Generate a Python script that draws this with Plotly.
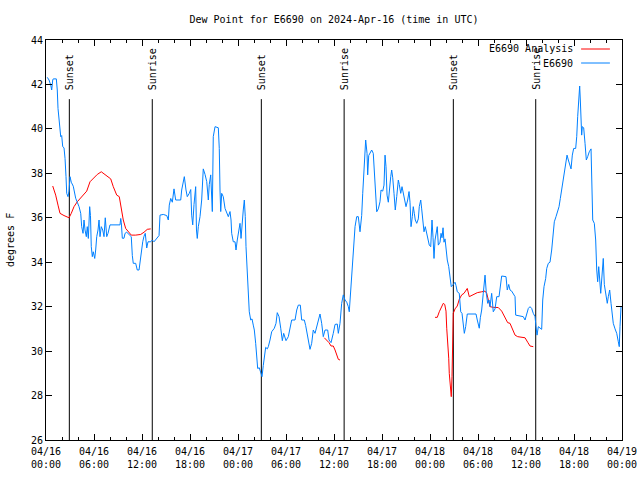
import pandas as pd
import plotly.graph_objects as go

# ---------------- data ----------------
START = "2024-04-16 00:00"

# E6690 observed dew point (hours since 04/16 00:00 UTC, degrees F)
obs_hours = [0.16, 0.38, 0.59, 0.71, 0.84, 0.91, 1.29, 1.41, 1.5, 1.63, 1.71, 1.84, 1.96, 2.09, 2.25, 2.38, 2.5, 2.59, 2.75, 2.88,
             3.0, 3.16, 3.41, 3.59, 3.71, 3.91, 4.13, 4.34, 4.46, 4.63, 4.75, 4.88, 5.04, 5.16, 5.29, 5.46, 5.56, 5.66, 5.79, 5.91,
             6.09, 6.21, 6.34, 6.5, 6.63, 6.75, 6.91, 7.09, 7.25, 7.41, 7.59, 7.75, 7.88, 8.0, 9.25, 9.34, 9.41, 9.54, 9.75, 9.88,
             10.09, 10.25, 10.5, 10.66, 10.79, 10.91, 11.21, 11.41, 11.63, 11.75, 11.91, 12.09, 12.25, 12.41, 12.59, 12.75, 13.09, 13.29, 13.5, 13.88,
             14.13, 14.25, 14.66, 15.09, 15.29, 15.41, 15.59, 15.79, 16.0, 16.21, 16.84, 16.96, 17.16, 17.29, 17.5, 17.66, 17.91, 18.09, 18.21, 18.34,
             18.5, 18.71, 18.81, 18.91, 19.04, 19.25, 19.46, 19.59, 19.66, 19.88, 20.09, 20.29, 20.41, 20.59, 20.71, 20.79, 20.91, 21.13, 21.54, 21.66,
             21.75, 21.84, 21.96, 22.16, 22.38, 22.59, 22.79, 23.0, 23.13, 23.21, 23.41, 23.63, 23.75, 23.91, 24.04, 24.25, 24.38, 24.5, 24.66, 24.79,
             24.91, 25.0, 25.16, 25.29, 25.41, 25.59, 25.75, 25.91, 26.04, 26.21, 26.34, 26.46, 26.66, 26.84, 27.0, 27.16, 27.34, 27.46, 27.66, 27.79,
             28.0, 28.21, 28.54, 28.75, 28.91, 29.13, 29.34, 29.54, 29.71, 30.0, 30.29, 30.5, 30.71, 31.13, 31.34, 31.54, 31.79, 31.96, 32.29, 32.46,
             32.63, 32.79, 33.0, 33.21, 33.41, 33.63, 33.84, 34.04, 34.25, 34.46, 34.66, 34.88, 35.21, 35.38, 35.63, 35.91, 36.13, 36.41, 36.54, 36.75,
             36.96, 37.16, 37.38, 37.59, 37.79, 37.91, 38.09, 38.21, 38.34, 38.46, 38.63, 38.84, 39.04, 39.25, 39.46, 39.59, 39.75, 39.88, 39.96, 40.13,
             40.21, 40.34, 40.5, 40.71, 40.91, 41.09, 41.25, 41.34, 41.54, 41.75, 41.88, 42.09, 42.25, 42.38, 42.5, 42.63, 42.79, 42.91, 43.09, 43.21,
             43.34, 43.5, 43.66, 43.84, 44.04, 44.16, 44.34, 44.5, 44.66, 44.88, 45.0, 45.21, 45.38, 45.5, 45.63, 45.79, 45.91, 46.04, 46.16, 46.34,
             46.54, 46.66, 46.84, 46.96, 47.09, 47.25, 47.41, 47.59, 47.75, 47.91, 48.09, 48.25, 48.38, 48.5, 48.63, 48.75, 48.91, 49.04, 49.25, 49.38,
             49.5, 49.63, 49.75, 49.88, 50.0, 50.16, 50.34, 50.5, 50.66, 50.91, 51.13, 51.25, 51.41, 51.66, 51.84, 52.0, 52.16, 52.29, 52.46, 52.66,
             53.0, 53.75, 53.91, 54.16, 54.29, 54.46, 54.66, 54.88, 55.04, 55.21, 55.38, 55.5, 55.71, 55.91, 56.13, 56.34, 56.63, 56.84, 56.96, 57.5,
             57.66, 57.84, 58.0, 58.21, 58.41, 58.63, 58.71, 59.66, 59.88, 60.09, 60.29, 60.5, 60.71, 60.91, 61.13, 61.25, 61.38, 61.54, 61.75, 61.96,
             62.09, 62.25, 62.46, 62.59, 62.79, 63.0, 63.21, 63.34, 63.54, 63.75, 63.96, 64.13, 64.29, 64.46, 64.63, 64.79, 64.96, 65.13, 65.29, 65.5,
             65.63, 65.79, 65.96, 66.21, 66.34, 66.46, 66.63, 66.71, 66.79, 66.88, 66.96, 67.04, 67.21, 67.38, 67.54, 67.71, 67.91, 68.13, 68.25, 68.34,
             68.54, 68.71, 68.84, 68.96, 69.09, 69.21, 69.34, 69.46, 69.66, 69.79, 69.96, 70.16, 70.29, 70.46, 70.63, 70.75, 70.91, 71.13, 71.34, 71.54,
             71.66, 71.75, 71.88]
obs_vals = [42.32, 42.2, 41.97, 41.75, 42.2, 42.25, 42.25, 41.75, 40.92, 40.4, 39.87, 39.65, 39.7, 39.2, 39.15, 38.67, 37.85, 37.1, 36.95, 37.2,
            37.85, 37.6, 37.42, 37.1, 36.88, 36.7, 36.5, 36.2, 35.6, 35.3, 35.9, 35.45, 35.15, 35.6, 35.07, 36.5, 36.1, 34.7, 34.25, 34.47,
            34.17, 34.55, 35.15, 35.45, 35.9, 35.15, 35.6, 35.45, 35.15, 36.0, 35.15, 35.3, 35.45, 35.68, 35.68, 35.97, 35.8, 35.08, 35.08, 35.3,
            35.35, 35.3, 35.22, 35.15, 34.3, 33.95, 33.95, 33.65, 33.65, 34.02, 34.55, 34.92, 35.17, 35.3, 34.64, 34.92, 34.92, 35.0, 34.92, 35.1,
            35.2, 36.12, 36.15, 36.1, 35.9, 36.57, 36.87, 36.7, 37.3, 36.8, 36.8, 37.25, 37.7, 37.85, 37.25, 36.95, 37.1, 37.27, 36.12, 35.68,
            36.6, 37.4, 35.45, 35.07, 35.6, 36.05, 36.8, 37.63, 38.2, 37.95, 37.63, 36.8, 37.5, 37.93, 37.1, 36.28, 39.65, 40.1, 40.05, 39.12,
            37.25, 36.28, 37.1, 36.95, 36.42, 36.2, 36.05, 36.28, 35.9, 35.3, 34.92, 34.92, 34.55, 35.0, 35.3, 35.75, 35.07, 35.8, 36.35, 36.8,
            36.05, 34.7, 33.5, 32.37, 31.77, 31.4, 31.45, 31.17, 30.95, 30.35, 29.6, 29.22, 29.25, 29.0, 28.85, 29.35, 29.9, 30.17, 30.1, 30.2,
            30.5, 30.87, 31.03, 31.25, 31.73, 31.55, 31.03, 30.47, 30.8, 30.47, 30.65, 31.0, 31.4, 31.4, 31.85, 32.07, 32.07, 31.4, 31.4, 31.15,
            30.8, 30.35, 30.08, 30.35, 30.95, 30.8, 31.1, 31.47, 31.67, 31.25, 30.65, 30.95, 30.95, 30.5, 30.38, 30.8, 31.2, 31.22, 30.8, 31.25,
            32.15, 32.53, 32.3, 32.2, 32.0, 31.77, 32.75, 33.5, 34.3, 34.92, 35.6, 36.05, 36.05, 35.37, 36.1, 37.1, 38.07, 39.05, 39.5, 38.9,
            37.93, 38.8, 38.9, 39.05, 38.9, 37.93, 36.95, 36.27, 36.4, 36.72, 37.25, 37.2, 37.47, 38.82, 38.3, 37.02, 36.7, 37.3, 37.85, 38.15,
            37.8, 37.1, 36.35, 36.95, 37.7, 37.5, 37.1, 37.4, 37.1, 36.8, 36.5, 36.8, 37.18, 36.7, 35.6, 36.05, 36.5, 36.2, 35.9, 35.75,
            35.95, 36.5, 36.8, 36.4, 35.9, 35.37, 35.6, 35.3, 35.1, 34.77, 34.7, 35.9, 35.1, 34.17, 35.0, 35.22, 35.6, 34.77, 34.9, 35.3,
            35.1, 35.55, 34.9, 35.05, 34.47, 34.1, 33.8, 33.42, 32.9, 33.0, 33.1, 32.95, 32.67, 32.6, 31.77, 31.7, 31.32, 30.8, 31.1, 31.67,
            31.67, 31.67, 31.4, 31.03, 31.5, 31.85, 32.6, 33.42, 32.6, 32.15, 32.3, 32.0, 32.6, 31.77, 31.9, 32.45, 32.45, 33.12, 33.38, 33.35,
            32.75, 33.0, 32.75, 32.7, 32.6, 32.45, 31.62, 31.55, 31.4, 31.7, 31.92, 32.0, 31.92, 31.7, 31.55, 31.1, 30.72, 31.1, 31.05, 30.98,
            32.3, 32.9, 33.27, 33.72, 33.95, 34.0, 34.55, 35.22, 35.82, 36.05, 36.27, 36.5, 36.87, 37.25, 37.55, 38.0, 38.37, 38.82, 38.6, 38.27,
            38.2, 38.82, 39.12, 39.12, 39.65, 40.55, 41.45, 41.93, 41.3, 40.4, 39.72, 40.1, 40.05, 39.35, 38.6, 38.75, 38.97, 39.1, 37.55, 35.9,
            35.75, 35.0, 33.65, 33.12, 33.8, 33.3, 32.6, 33.2, 34.17, 33.0, 32.6, 32.15, 32.45, 32.75, 32.15, 31.85, 31.25, 31.0, 30.8, 30.42,
            30.2, 31.1, 32.0]

# E6690 analysis dew point, three separate segments
ana_hours_1 = [0.84, 1.21, 1.5, 1.75, 2.25, 2.88, 3.16, 3.5, 3.91, 4.34, 4.75, 5.09, 5.5, 5.91, 6.41, 6.91, 7.25, 7.75, 8.09, 8.41,
               8.84, 9.16, 9.41, 9.66, 9.96, 10.38, 10.66, 11.21, 11.84, 12.25, 12.66, 13.09]
ana_vals_1 = [37.43, 37.02, 36.57, 36.2, 36.1, 36.0, 36.2, 36.5, 36.72, 36.9, 37.07, 37.2, 37.62, 37.78, 37.95, 38.07, 37.97, 37.82, 37.75, 37.4,
              37.02, 36.95, 36.35, 35.9, 35.52, 35.35, 35.22, 35.22, 35.25, 35.35, 35.48, 35.5]
ana_hours_2 = [34.79, 35.09, 35.38, 35.63, 35.91, 36.13, 36.34, 36.54, 36.75]
ana_vals_2 = [30.6, 30.5, 30.38, 30.23, 30.23, 30.05, 29.82, 29.63, 29.6]
ana_hours_3 = [48.63, 48.91, 49.16, 49.46, 49.66, 49.84, 50.0, 50.09, 50.21, 50.34, 50.41, 50.54, 50.66, 50.75, 50.84, 50.91, 51.13, 51.41, 51.66, 51.96,
               52.25, 52.5, 52.66, 52.91, 53.21, 53.5, 53.91, 54.46, 54.88, 55.09, 55.29, 55.5, 55.91, 56.54, 56.96, 57.38, 57.71, 58.0, 58.29, 58.63,
               58.96, 59.46, 59.88, 60.21, 60.5, 60.91]
ana_vals_3 = [31.52, 31.52, 31.77, 32.03, 32.15, 32.1, 31.8, 31.03, 30.5, 29.68, 29.0, 28.32, 27.95, 28.85, 30.65, 31.7, 31.9, 32.03, 32.33, 32.53,
              32.6, 32.72, 32.82, 32.45, 32.5, 32.55, 32.63, 32.67, 32.7, 32.6, 32.3, 32.0, 31.97, 31.96, 31.8, 31.52, 31.28, 31.25, 31.03, 30.72,
              30.65, 30.62, 30.6, 30.4, 30.23, 30.2]

# sunrise / sunset markers
sun_labels = ["Sunset", "Sunrise", "Sunset", "Sunrise", "Sunset", "Sunrise"]
sun_times = ["2024-04-16 02:55", "2024-04-16 13:17", "2024-04-17 02:55",
             "2024-04-17 13:16", "2024-04-18 02:55", "2024-04-18 13:13"]

# axis ticks
x_tick_times = ["2024-04-16 00:00", "2024-04-16 06:00", "2024-04-16 12:00", "2024-04-16 18:00",
                "2024-04-17 00:00", "2024-04-17 06:00", "2024-04-17 12:00", "2024-04-17 18:00",
                "2024-04-18 00:00", "2024-04-18 06:00", "2024-04-18 12:00", "2024-04-18 18:00",
                "2024-04-19 00:00"]
x_tick_text = ["04/16<br>00:00", "04/16<br>06:00", "04/16<br>12:00", "04/16<br>18:00",
               "04/17<br>00:00", "04/17<br>06:00", "04/17<br>12:00", "04/17<br>18:00",
               "04/18<br>00:00", "04/18<br>06:00", "04/18<br>12:00", "04/18<br>18:00",
               "04/19<br>00:00"]
y_ticks = [26, 28, 30, 32, 34, 36, 38, 40, 42, 44]

series_names = ["E6690 Analysis", "E6690"]
series_colors = ["#ff0000", "#0080ff"]

# ---------------- build ----------------
base = pd.Timestamp(START)


def to_times(hours):
    return list(base + pd.to_timedelta(hours, unit="h"))


obs_x = to_times(obs_hours)
ana_x, ana_y = [], []
for hs, vs in [(ana_hours_1, ana_vals_1), (ana_hours_2, ana_vals_2), (ana_hours_3, ana_vals_3)]:
    if ana_x:
        ana_x.append(None)
        ana_y.append(None)
    ana_x += to_times(hs)
    ana_y += vs

FONT = "DejaVu Sans Mono"
fig = go.Figure()
fig.add_trace(go.Scatter(x=ana_x, y=ana_y, mode="lines", name=series_names[0],
                         line=dict(color=series_colors[0], width=1), connectgaps=False))
fig.add_trace(go.Scatter(x=obs_x, y=obs_vals, mode="lines", name=series_names[1],
                         line=dict(color=series_colors[1], width=1)))

line_top = 41.34
label_base = 41.66
for lab, t in zip(sun_labels, sun_times):
    fig.add_shape(type="line", xref="x", yref="y", x0=t, x1=t, y0=26, y1=line_top,
                  line=dict(color="black", width=1), layer="below")
    fig.add_annotation(x=t, y=label_base, xref="x", yref="y", text=lab, textangle=-90,
                       showarrow=False, xanchor="center", yanchor="bottom",
                       font=dict(family=FONT, size=10, color="black"))

# legend (gnuplot style: text left of sample)
leg_y = [0.9775, 0.9425]
for name, col, yy in zip(series_names, series_colors, leg_y):
    fig.add_annotation(x=0.919, y=yy, xref="paper", yref="paper", text=name, showarrow=False,
                       xanchor="right", yanchor="middle", font=dict(family=FONT, size=10, color="black"))
    fig.add_shape(type="line", xref="paper", yref="paper", x0=0.929, x1=0.979, y0=yy, y1=yy,
                  line=dict(color=col, width=1))

# y-axis title
fig.add_annotation(x=-0.0625, y=0.5, xref="paper", yref="paper", text="degrees F", textangle=-90,
                   showarrow=False, xanchor="center", yanchor="middle",
                   font=dict(family=FONT, size=10, color="black"))

fig.update_layout(
    width=640, height=480,
    margin=dict(l=46, r=18, t=40, b=40, autoexpand=False),
    paper_bgcolor="white", plot_bgcolor="white",
    showlegend=False,
    font=dict(family=FONT, size=10, color="black"),
    title=dict(text="Dew Point for E6690 on 2024-Apr-16 (time in UTC)", x=0.5, xanchor="center",
               xref="paper", y=1 - 19 / 480, yanchor="middle", yref="container",
               font=dict(family=FONT, size=10, color="black")),
)
fig.update_xaxes(
    type="date", range=[x_tick_times[0], x_tick_times[-1]], automargin=False,
    tickmode="array", tickvals=x_tick_times, ticktext=x_tick_text,
    ticks="inside", ticklen=6, tickcolor="black", tickwidth=1, ticklabelstandoff=2,
    minor=dict(tickmode="linear", tick0=x_tick_times[0], dtick=2 * 3600 * 1000,
               ticks="inside", ticklen=3, tickcolor="black", showgrid=False),
    showline=True, linecolor="black", linewidth=1, mirror="ticks",
    showgrid=False, zeroline=False, tickfont=dict(family=FONT, size=10, color="black"),
)
fig.update_yaxes(
    range=[26, 44], tickmode="array", tickvals=y_ticks, automargin=False,
    ticks="inside", ticklen=6, tickcolor="black", tickwidth=1,
    showline=True, linecolor="black", linewidth=1, mirror="ticks",
    showgrid=False, zeroline=False, tickfont=dict(family=FONT, size=10, color="black"),
)

fig.write_html("out.html", config={"displayModeBar": False},
               post_script="document.body.style.margin='0px';")
